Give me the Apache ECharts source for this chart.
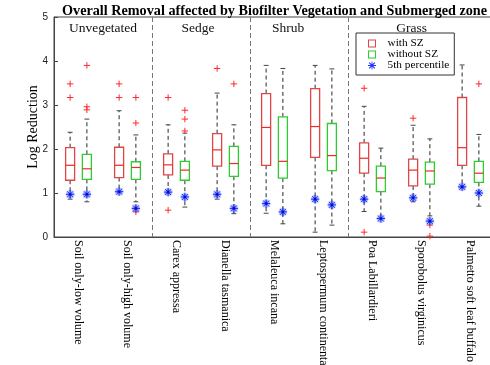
<!DOCTYPE html>
<html>
<head>
<meta charset="utf-8">
<script src="https://cdn.jsdelivr.net/npm/echarts@6/dist/echarts.min.js"></script>
<style>
html,body{margin:0;padding:0;background:#fff;}
#c{width:490px;height:365px;}
</style>
</head>
<body>
<div id="c"></div>
<script>
// ---------------- data ----------------
const categories = ['Soil only-low volume','Soil only-high volume','Carex appressa','Dianella tasmanica',
  'Melaleuca incana','Leptospermum continentale','Poa Labillardieri','Sporobolus virginicus','Palmetto soft leaf buffalo'];
const yTicks = [0,1,2,3,4,5];

// with SZ (red)
const withLow  = [0.86,1.02,1.00,0.86,0.54,0.11,0.58,0.80,1.12];
const withQ1   = [1.29,1.35,1.41,1.61,1.63,1.81,1.45,1.16,1.63];
const withMed  = [1.63,1.63,1.64,1.98,2.49,2.51,1.79,1.52,2.03];
const withQ3   = [2.03,2.04,1.89,2.35,3.26,3.37,2.14,1.77,3.17];
const withHigh = [2.38,2.87,2.55,3.27,3.90,3.90,2.97,2.54,3.91];
const withP5   = [0.97,1.03,1.02,0.97,0.76,0.86,0.86,0.89,1.14];
const withOut  = [[0,3.48],[0,3.17],[1,3.48],[1,3.17],[2,3.17],[2,0.61],[3,3.83],[6,3.38],[6,0.11],[7,2.70]];

// without SZ (green)
const woLow  = [0.80,0.80,0.68,0.53,0.30,0.27,0.42,0.48,0.70];
const woQ1   = [1.31,1.31,1.29,1.38,1.34,1.51,1.03,1.20,1.24];
const woMed  = [1.55,1.58,1.52,1.67,1.72,1.85,1.34,1.50,1.45];
const woQ3   = [1.88,1.71,1.72,2.06,2.73,2.58,1.61,1.70,1.72];
const woHigh = [2.68,2.32,2.36,2.55,3.83,3.82,2.02,2.23,2.33];
const woP5   = [0.97,0.65,0.91,0.65,0.57,0.73,0.42,0.36,1.00];
const woOut  = [[0,3.90],[0,2.96],[0,2.89],[1,3.17],[1,2.59],[1,0.65],[1,0.57],[2,2.88],[2,2.68],[2,2.41],[3,3.48],[7,0.27],[7,0.02],[8,3.48]];

// group annotations (label, category-axis position) and group separators
const groupLabels = ['Unvegetated','Sedge','Shrub','Grass'];
const groupLabelPos = [0.5, 2.44, 4.28, 6.8];
const groupLabelY = 4.75;
const separators = [1.5, 3.5, 5.5];

// ---------------- styles ----------------
const RED = '#e04646', GREEN = '#2ecc2e', MED = '#f02828', OUT = '#ff2a2a', BLUE = '#1e30ff';
const OFF = 0.171, HALF = 0.092, CAP = 0.05;

function boxData(lo,q1,md,q3,hi){ return lo.map((v,i)=>[i,lo[i],q1[i],md[i],q3[i],hi[i]]); }

function xAt(api, v){
  const i = Math.floor(v), f = v - i;
  const bw = api.size([1,0])[0];
  return api.coord([i,0])[0] + f*bw;
}

function boxRender(side, color){
  return function(params, api){
    const ci = api.value(0);
    const bw = api.size([1,0])[0];
    const cx = api.coord([ci,0])[0] + side*OFF*bw;
    const y = k => api.coord([ci, api.value(k)])[1];
    const yLo=y(1), yQ1=y(2), yMd=y(3), yQ3=y(4), yHi=y(5);
    const h = HALF*bw, c = CAP*bw;
    const wStyle = {stroke:'#2a2a2a', lineWidth:1, lineDash:[4,3]};
    const capStyle = {stroke:'#444', lineWidth:1};
    return {type:'group', children:[
      {type:'line', shape:{x1:cx,y1:yQ3,x2:cx,y2:yHi}, style:wStyle},
      {type:'line', shape:{x1:cx,y1:yQ1,x2:cx,y2:yLo}, style:wStyle},
      {type:'line', shape:{x1:cx-c,y1:yHi,x2:cx+c,y2:yHi}, style:capStyle},
      {type:'line', shape:{x1:cx-c,y1:yLo,x2:cx+c,y2:yLo}, style:capStyle},
      {type:'rect', shape:{x:cx-h,y:yQ3,width:2*h,height:yQ1-yQ3}, style:{fill:'#fff',stroke:color,lineWidth:1.3}},
      {type:'line', shape:{x1:cx-h,y1:yMd,x2:cx+h,y2:yMd}, style:{stroke:MED,lineWidth:1.2}}
    ]};
  };
}

function plusRender(side){
  return function(params, api){
    const ci = api.value(0);
    const bw = api.size([1,0])[0];
    const cx = api.coord([ci,0])[0] + side*OFF*bw;
    const cy = api.coord([ci, api.value(1)])[1];
    const a = 3.2;
    return {type:'group', children:[
      {type:'line', shape:{x1:cx-a,y1:cy,x2:cx+a,y2:cy}, style:{stroke:OUT,lineWidth:1}},
      {type:'line', shape:{x1:cx,y1:cy-a,x2:cx,y2:cy+a}, style:{stroke:OUT,lineWidth:1}}
    ]};
  };
}

function starRender(side){
  return function(params, api){
    const ci = api.value(0);
    const bw = api.size([1,0])[0];
    const cx = api.coord([ci,0])[0] + side*OFF*bw;
    const cy = api.coord([ci, api.value(1)])[1];
    const a = 4.2, d = 3.0;
    const segs = [[-a,0,a,0],[0,-a,0,a],[-d,-d,d,d],[-d,d,d,-d]];
    const ch = [];
    segs.forEach(s=>ch.push({type:'line', shape:{x1:cx+s[0],y1:cy+s[1],x2:cx+s[2],y2:cy+s[3]}, style:{stroke:'rgba(90,110,255,0.35)',lineWidth:3}}));
    segs.forEach(s=>ch.push({type:'line', shape:{x1:cx+s[0],y1:cy+s[1],x2:cx+s[2],y2:cy+s[3]}, style:{stroke:BLUE,lineWidth:1}}));
    ch.push({type:'circle', shape:{cx:cx,cy:cy,r:1.3}, style:{fill:'#0010c0'}});
    return {type:'group', children:ch};
  };
}

const squareIcon = 'path://M0,0H8V8H0Z M1,1V7H7V1H1Z';
const starIcon = 'path://M0,4.5H10V5.5H0Z M4.5,0H5.5V10H4.5Z M2,1L9,8L8,9L1,2Z M8,1L9,2L2,9L1,8Z';

const chart = echarts.init(document.getElementById('c'), null, {renderer:'canvas'});
chart.setOption({
  animation:false,
  backgroundColor:'#fff',
  title:{
    text:'Overall Removal affected by Biofilter Vegetation and Submerged zone',
    left:62, top:4, padding:0,
    textStyle:{fontFamily:'Liberation Serif', fontWeight:'bold', fontSize:14.2, color:'#000'}
  },
  legend:{
    orient:'vertical', left:356, top:33,
    padding:[5,5,4,12], itemGap:0,
    itemWidth:21, itemHeight:8,
    backgroundColor:'#fff', borderColor:'#333', borderWidth:1,
    textStyle:{fontFamily:'Liberation Serif', fontSize:11.3, color:'#000', lineHeight:11},
    data:[
      {name:'with SZ', icon:squareIcon},
      {name:'without SZ', icon:squareIcon},
      {name:'5th percentile', icon:starIcon}
    ],
    selectedMode:false
  },
  grid:{left:54, top:17, width:441, height:220, outerBoundsMode:'none', containLabel:false,
    show:true, borderColor:'#444', borderWidth:1, backgroundColor:'transparent'},
  xAxis:{
    type:'category', data:categories, boundaryGap:true,
    axisLine:{lineStyle:{color:'#444'}},
    axisTick:{show:false},
    axisLabel:{rotate:-90, interval:0, margin:3, fontFamily:'Liberation Serif', fontSize:12, color:'#000'}
  },
  yAxis:{
    type:'value', min:yTicks[0], max:yTicks[yTicks.length-1], interval:1,
    name:'Log Reduction', nameLocation:'middle', nameGap:14, nameMoveOverlap:false,
    nameTextStyle:{fontFamily:'Liberation Serif', fontSize:14, color:'#000'},
    axisLine:{show:true, lineStyle:{color:'#444'}},
    axisTick:{show:true, inside:true, length:4, lineStyle:{color:'#444'}},
    axisLabel:{margin:6, fontFamily:'Liberation Sans', fontSize:10, color:'#222'},
    splitLine:{show:false}
  },
  series:[
    {name:'separators', type:'custom', silent:true, data:separators.map(v=>[v]),
      renderItem:function(params, api){
        const x = Math.round(xAt(api, api.value(0)))+0.5;
        const cs = params.coordSys;
        return {type:'line', shape:{x1:x,y1:cs.y,x2:x,y2:cs.y+cs.height}, style:{stroke:'#777',lineWidth:1,lineDash:[5,3]}};
      }},
    {name:'groups', type:'custom', silent:true, data:groupLabelPos.map(v=>[v, groupLabelY]),
      renderItem:function(params, api){
        const x = xAt(api, api.value(0));
        const y = api.coord([0, api.value(1)])[1];
        return {type:'text', style:{x:x, y:y, text:groupLabels[params.dataIndex], align:'center', verticalAlign:'middle',
          font:'13.5px "Liberation Serif"', fill:'#111'}};
      }},
    {name:'with SZ', type:'custom', data:boxData(withLow,withQ1,withMed,withQ3,withHigh),
      itemStyle:{color:RED}, encode:{x:0,y:[1,2,3,4,5]}, renderItem:boxRender(-1, RED)},
    {name:'without SZ', type:'custom', data:boxData(woLow,woQ1,woMed,woQ3,woHigh),
      itemStyle:{color:GREEN}, encode:{x:0,y:[1,2,3,4,5]}, renderItem:boxRender(1, GREEN)},
    {name:'outliers-with', type:'custom', data:withOut, renderItem:plusRender(-1), encode:{x:0,y:1}},
    {name:'outliers-without', type:'custom', data:woOut, renderItem:plusRender(1), encode:{x:0,y:1}},
    {name:'5th percentile', type:'custom', data:withP5.map((v,i)=>[i,v]), itemStyle:{color:BLUE},
      renderItem:starRender(-1), encode:{x:0,y:1}},
    {name:'5th percentile', type:'custom', data:woP5.map((v,i)=>[i,v]), itemStyle:{color:BLUE},
      renderItem:starRender(1), encode:{x:0,y:1}}
  ]
});
</script>
</body>
</html>
